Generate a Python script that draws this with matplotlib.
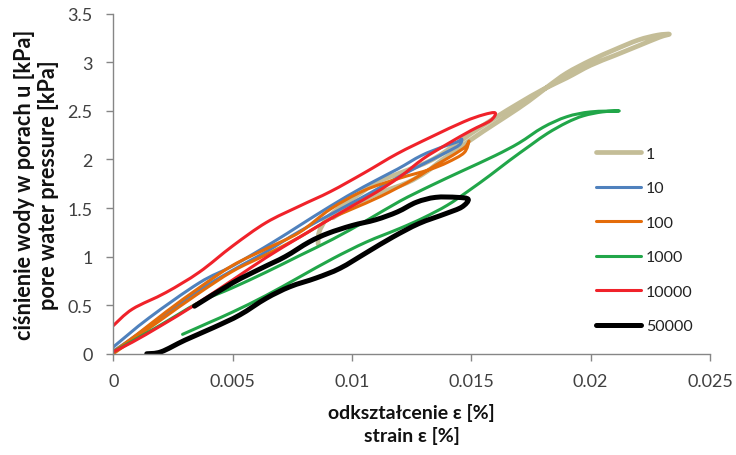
import matplotlib
matplotlib.use("Agg")
import matplotlib.pyplot as plt
from matplotlib.ticker import FixedLocator, FixedFormatter
from matplotlib.path import Path
from matplotlib.patches import PathPatch
from matplotlib.lines import Line2D

plt.rcParams['font.family'] = ['Lato', 'DejaVu Sans']

# --- loop data: strain [%] vs pore water pressure [kPa] ---
x_1 = [0.00858, 0.00862, 0.0089, 0.0093, 0.00977, 0.0104, 0.0110, 0.0121, 0.0133, 0.0142,
       0.0150, 0.0160, 0.0170, 0.0180, 0.0190, 0.0200, 0.0210, 0.0220, 0.0229, 0.0233,
       0.0228, 0.0220, 0.0210, 0.0200, 0.0190, 0.0182, 0.0174, 0.0165, 0.0155, 0.0145,
       0.0138, 0.0131, 0.0123, 0.0110, 0.0100, 0.0092]
y_1 = [1.13, 1.25, 1.38, 1.47, 1.557, 1.66, 1.763, 1.869, 1.99, 2.13,
       2.27, 2.43, 2.58, 2.72, 2.84, 2.97, 3.07, 3.17, 3.26, 3.29,
       3.28, 3.23, 3.13, 3.02, 2.89, 2.75, 2.60, 2.45, 2.29, 2.12,
       2.00, 1.87, 1.76, 1.64, 1.52, 1.40]

x_10 = [0.0, 0.0015, 0.0036, 0.0050, 0.0067, 0.0078, 0.0091, 0.0105, 0.0119, 0.0129,
        0.0138, 0.0144, 0.0146,
        0.0145, 0.0140, 0.0132, 0.0121, 0.0108, 0.0093, 0.0078, 0.0064, 0.0050, 0.0035,
        0.0018, 0.0005, 0.0]
y_10 = [0.07, 0.37, 0.73, 0.905, 1.15, 1.32, 1.52, 1.72, 1.90, 2.04,
        2.13, 2.18, 2.21,
        2.15, 2.08, 1.98, 1.84, 1.66, 1.46, 1.26, 1.05, 0.86, 0.64,
        0.34, 0.11, 0.03]

x_100 = [0.0, 0.0010, 0.0022, 0.0036, 0.0050, 0.0064, 0.0078, 0.0091, 0.0105, 0.0119,
         0.0126, 0.0133, 0.0140, 0.0147, 0.0149,
         0.01475, 0.0142, 0.0135, 0.0126, 0.0112, 0.0100, 0.0091, 0.0078, 0.0064, 0.0050,
         0.0035, 0.0020, 0.0008, 0.0]
y_100 = [0.02, 0.20, 0.43, 0.68, 0.91, 1.08, 1.25, 1.49, 1.68, 1.80,
         1.85, 1.90, 1.97, 2.07, 2.19,
         2.13, 2.04, 1.94, 1.80, 1.62, 1.49, 1.39, 1.20, 1.02, 0.85,
         0.61, 0.35, 0.14, 0.0]

x_1000 = [0.0, 0.0018, 0.0036, 0.0050, 0.0064, 0.0078, 0.0092, 0.0106, 0.0120, 0.0133,
          0.0146, 0.0160, 0.0170, 0.0180, 0.0190, 0.0200, 0.0212,
          0.0205, 0.0197, 0.0190, 0.0182, 0.0175, 0.0166, 0.0158, 0.0149, 0.0140,
          0.0130, 0.0120, 0.0106, 0.0092, 0.0078, 0.0064, 0.0050, 0.0040, 0.0029]
y_1000 = [0.02, 0.27, 0.53, 0.68, 0.84, 1.01, 1.18, 1.37, 1.57, 1.73,
          1.88, 2.04, 2.17, 2.33, 2.44, 2.49, 2.50,
          2.49, 2.45, 2.38, 2.27, 2.15, 1.99, 1.84, 1.68, 1.53,
          1.40, 1.29, 1.15, 0.98, 0.79, 0.60, 0.43, 0.32, 0.20]

x_10000 = [0.0, 0.0008, 0.0022, 0.0036, 0.0050, 0.0064, 0.0078, 0.0091, 0.0105, 0.0119,
           0.0133, 0.0147, 0.0155, 0.0160,
           0.0158, 0.0150, 0.0140, 0.0130, 0.0120, 0.0110, 0.0100, 0.0091, 0.0078, 0.0064,
           0.0050, 0.0034, 0.0020, 0.0008, 0.0]
y_10000 = [0.29, 0.46, 0.63, 0.84, 1.11, 1.35, 1.52, 1.67, 1.86, 2.06,
           2.23, 2.39, 2.46, 2.48,
           2.40, 2.30, 2.16, 2.01, 1.82, 1.66, 1.52, 1.39, 1.20, 0.99,
           0.76, 0.50, 0.29, 0.12, 0.02]

x_50000 = [0.0014, 0.0020, 0.0030, 0.0042, 0.0053, 0.0064, 0.0074, 0.0085, 0.0095, 0.0106,
           0.0117, 0.0128, 0.0139, 0.0146, 0.01487,
           0.0144, 0.0135, 0.0127, 0.0119, 0.0110, 0.0100, 0.0090, 0.0082, 0.0072, 0.0062,
           0.0050, 0.0034]
y_50000 = [0.0, 0.02, 0.14, 0.27, 0.40, 0.57, 0.69, 0.78, 0.88, 1.04,
           1.20, 1.34, 1.44, 1.51, 1.59,
           1.61, 1.61, 1.56, 1.46, 1.38, 1.32, 1.24, 1.15, 1.00, 0.88,
           0.73, 0.49]

labels = ["1", "10", "100", "1000", "10000", "50000"]
colors = ["#C4BD97", "#4F81BD", "#E46C0A", "#21A649", "#F0222A", "#000000"]
widths = [3.4, 2.2, 2.2, 2.2, 2.2, 3.6]

x_ticks = [0, 0.005, 0.01, 0.015, 0.02, 0.025]
x_tick_labels = ["0", "0.005", "0.01", "0.015", "0.02", "0.025"]
y_ticks = [0, 0.5, 1, 1.5, 2, 2.5, 3, 3.5]
y_tick_labels = ["0", "0.5", "1", "1.5", "2", "2.5", "3", "3.5"]


def smooth_path(xs, ys):
    """Smoothed line through the points (Catmull-Rom segments as cubic Beziers)."""
    pts = list(zip(xs, ys))
    n = len(pts)
    verts = [pts[0]]
    codes = [Path.MOVETO]
    for i in range(n - 1):
        p0 = pts[i - 1] if i > 0 else pts[i]
        p1 = pts[i]
        p2 = pts[i + 1]
        p3 = pts[i + 2] if i + 2 < n else pts[i + 1]
        c1 = (p1[0] + (p2[0] - p0[0]) / 6.0, p1[1] + (p2[1] - p0[1]) / 6.0)
        c2 = (p2[0] - (p3[0] - p1[0]) / 6.0, p2[1] - (p3[1] - p1[1]) / 6.0)
        verts += [c1, c2, p2]
        codes += [Path.CURVE4, Path.CURVE4, Path.CURVE4]
    return Path(verts, codes)


fig = plt.figure(figsize=(7.36, 4.56), dpi=100)
ax = fig.add_axes([0.154, 0.222, 0.8106, 0.7456])

series = [(x_1, y_1), (x_10, y_10), (x_100, y_100), (x_1000, y_1000),
          (x_10000, y_10000), (x_50000, y_50000)]
handles = []
for (xs, ys), lab, c, w in zip(series, labels, colors, widths):
    patch = PathPatch(smooth_path(xs, ys), transform=ax.transData, fill=False,
                      edgecolor=c, lw=w, capstyle='round', joinstyle='round')
    ax.add_patch(patch)
    handles.append(Line2D([], [], color=c, lw=w, label=lab, solid_capstyle='round'))

ax.set_xlim(0, 0.025)
ax.set_ylim(0, 3.5)
ax.xaxis.set_major_locator(FixedLocator(x_ticks))
ax.xaxis.set_major_formatter(FixedFormatter(x_tick_labels))
ax.yaxis.set_major_locator(FixedLocator(y_ticks))
ax.yaxis.set_major_formatter(FixedFormatter(y_tick_labels))

for s in ("top", "right"):
    ax.spines[s].set_visible(False)
for s in ("left", "bottom"):
    ax.spines[s].set_color("#868686")
    ax.spines[s].set_linewidth(1.0)
ax.tick_params(axis="both", direction="out", length=5, width=1.0, color="#868686",
               labelsize=13, labelcolor="#404040")
ax.tick_params(axis="x", pad=9)
ax.tick_params(axis="y", pad=10)

ax.set_xlabel("odkształcenie ε [%]\nstrain ε [%]", fontsize=14, fontweight="bold",
              labelpad=10, linespacing=1.3, color="#111111")
ax.set_ylabel("ciśnienie wody w porach u [kPa]\npore water pressure [kPa]", fontsize=15.6,
              fontweight="bold", labelpad=6, linespacing=1.2, color="#111111")

leg = ax.legend(handles=handles, loc="upper left", bbox_to_anchor=(0.798, 0.628),
                frameon=False, fontsize=11.5, handlelength=2.85, handletextpad=0.3,
                labelspacing=1.27, borderaxespad=0)
for t in leg.get_texts():
    t.set_color("#222222")

fig.savefig("out.png", dpi=100)
